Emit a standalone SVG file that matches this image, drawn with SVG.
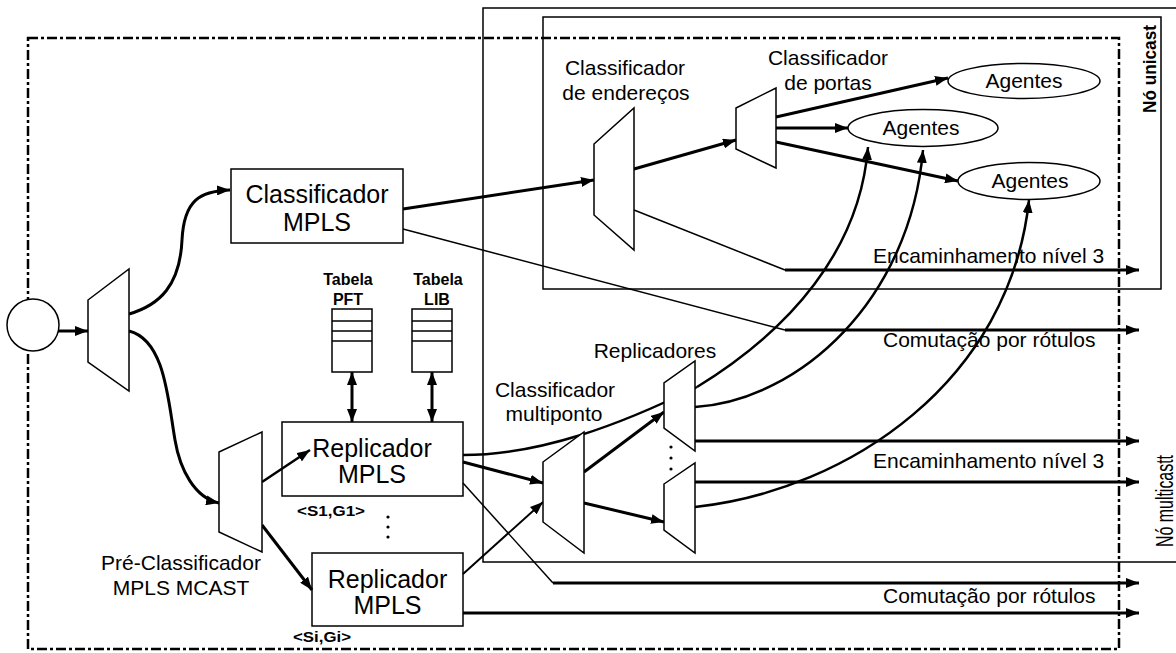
<svg xmlns="http://www.w3.org/2000/svg" width="1176" height="653" viewBox="0 0 1176 653">
<defs>
<marker id="ah" markerUnits="userSpaceOnUse" markerWidth="14" markerHeight="10" refX="13" refY="5" orient="auto-start-reverse"><path d="M0,0 L13,5 L0,10 z" fill="#000"/></marker>
</defs>
<style>
text{font-family:"Liberation Sans",Arial,sans-serif;fill:#000}
.lbl{font-size:21px}
.big{font-size:25px;text-anchor:middle}
.mid{text-anchor:middle}
.tb{font-size:16px;font-weight:bold;text-anchor:middle}
.sm{font-size:15px;font-weight:bold}
.shape{fill:#fff;stroke:#000;stroke-width:1.5}
.box{fill:none;stroke:#000;stroke-width:1.5}
.frame{fill:none;stroke:#000;stroke-width:1.5}
.dd{fill:none;stroke:#000;stroke-width:2.5;stroke-dasharray:10 3 3 3}
.c{fill:none;stroke:#000}
.t3{stroke-width:3}
.t25{stroke-width:2.5}
.t2{stroke-width:2}
.t15{stroke-width:1.5}
.ar{marker-end:url(#ah)}
.dbl{marker-start:url(#ah);marker-end:url(#ah)}
</style>
<g id="frames">
<rect class="frame" x="483" y="8" width="720" height="554"/>
<rect class="frame" x="543" y="17" width="618" height="272"/>
<rect class="dd" x="28" y="38" width="1091" height="611"/>
<text transform="translate(1156,69) rotate(-90)" style="font-size:18px;font-weight:bold;text-anchor:middle" textLength="88" lengthAdjust="spacingAndGlyphs">Nó unicast</text>
<text transform="translate(1173,501) rotate(-90)" style="font-size:23px;text-anchor:middle" textLength="92" lengthAdjust="spacingAndGlyphs">Nó multicastt</text>
</g>
<g id="connectors">
<path class="c t3 ar" d="M58,331 L88,331"/>
<path class="c t3 ar" d="M129,314 C160,305 180,285 182,240 C184,200 200,191 230,190"/>
<path class="c t3 ar" d="M129,331 C165,340 168,400 175,440 C180,470 195,498 219,503"/>
<path class="c t3 ar" d="M403,209 L594,180"/>
<path class="c t15" d="M403,229 L785,330"/>
<path class="c t3 ar" d="M785,330 L1139,330"/>
<path class="c t3 ar" d="M634,169 L736,140"/>
<path class="c t15" d="M634,210 L785,270"/>
<path class="c t3 ar" d="M785,270 L1139,270"/>
<path class="c t3 ar" d="M776,117 L948,78"/>
<path class="c t3 ar" d="M776,128 L848,128"/>
<path class="c t3 ar" d="M776,142 L958,181"/>
<path class="c t25 ar" d="M262,482 L310,450"/>
<path class="c t3 ar" d="M262,525 L312,590"/>
<path class="c t3 dbl" d="M352,372 L352,422"/>
<path class="c t3 dbl" d="M432,372 L432,422"/>
<path class="c t3 ar" d="M463,462 L543,483"/>
<path class="c t2 ar" d="M463,574 L543,502"/>
<path class="c t25" d="M463,455 C540,455 620,425 697,387"/>
<path class="c t25 ar" d="M697,387 C790,330 860,250 868,147"/>
<path class="c t3 ar" d="M584,472 L664,412"/>
<path class="c t3 ar" d="M584,503 L664,522"/>
<path class="c t25 ar" d="M695,407 C800,400 910,300 923,150"/>
<path class="c t25 ar" d="M695,507 C850,490 1010,380 1029,200"/>
<path class="c t3 ar" d="M695,441 L1139,441"/>
<path class="c t3 ar" d="M695,482 L1139,482"/>
<path class="c t15" d="M463,483 L553,583"/>
<path class="c t3 ar" d="M553,583 L1139,583"/>
<path class="c t3 ar" d="M463,613 L1139,613"/>
</g>
<g id="source"><circle class="shape" cx="33" cy="325" r="26"/></g>
<g id="classifier-in"><polygon class="shape" points="88,300 129,269 129,391 88,362"/></g>
<g id="classificador-mpls">
<rect class="shape" x="231" y="169" width="172" height="74"/>
<text class="big" x="317" y="203">Classificador</text>
<text class="big" x="317" y="231">MPLS</text>
</g>
<g id="tabela-pft">
<text class="tb" x="348" y="285">Tabela</text>
<text class="tb" x="348" y="305">PFT</text>
<rect class="shape" x="332" y="309" width="40" height="63"/>
<path class="c t15" d="M332,321 H372 M332,331 H372 M332,341 H372"/>
</g>
<g id="tabela-lib">
<text class="tb" x="438" y="285">Tabela</text>
<text class="tb" x="437" y="305">LIB</text>
<rect class="shape" x="412" y="309" width="40" height="63"/>
<path class="c t15" d="M412,321 H452 M412,331 H452 M412,341 H452"/>
</g>
<g id="pre-classificador">
<polygon class="shape" points="219,452 262,432 262,552 219,532"/>
<text class="lbl mid" x="181" y="570">Pré-Classificador</text>
<text class="lbl mid" x="181" y="595">MPLS MCAST</text>
</g>
<g id="replicador-1">
<rect class="box" x="282" y="422" width="181" height="74"/>
<text class="big" x="372" y="457">Replicador</text>
<text class="big" x="372" y="483">MPLS</text>
<text class="sm" x="297" y="516" textLength="68" lengthAdjust="spacingAndGlyphs">&lt;S1,G1&gt;</text>
<circle cx="388" cy="517" r="1.6"/><circle cx="388" cy="527" r="1.6"/><circle cx="388" cy="537" r="1.6"/>
</g>
<g id="replicador-i">
<rect class="box" x="312" y="553" width="151" height="73"/>
<text class="big" x="387.5" y="588">Replicador</text>
<text class="big" x="387.5" y="614">MPLS</text>
<text class="sm" x="293" y="642" textLength="58" lengthAdjust="spacingAndGlyphs">&lt;Si,Gi&gt;</text>
</g>
<g id="classificador-enderecos">
<polygon class="shape" points="594,144 634,108 634,250 594,215"/>
<text class="lbl mid" x="625" y="75">Classificador</text>
<text class="lbl mid" x="626" y="100">de endereços</text>
</g>
<g id="classificador-portas">
<polygon class="shape" points="736,108 776,88 776,168 736,149"/>
<text class="lbl mid" x="828" y="65">Classificador</text>
<text class="lbl mid" x="828" y="90">de portas</text>
</g>
<g id="agentes-1"><ellipse class="shape" cx="1024" cy="81" rx="76" ry="17.5"/><text class="lbl mid" x="1024" y="88">Agentes</text></g>
<g id="agentes-2"><ellipse class="shape" cx="923" cy="128" rx="75" ry="18.5"/><text class="lbl mid" x="921" y="135">Agentes</text></g>
<g id="agentes-3"><ellipse class="shape" cx="1029" cy="181" rx="71" ry="18.5"/><text class="lbl mid" x="1030" y="188">Agentes</text></g>
<g id="classificador-multiponto">
<polygon class="shape" points="543,462 584,432 584,553 543,522"/>
<text class="lbl mid" x="555" y="397">Classificador</text>
<text class="lbl mid" x="554" y="421">multiponto</text>
</g>
<g id="replicadores">
<text class="lbl mid" x="655" y="358">Replicadores</text>
<polygon class="shape" points="664,405 664,383 695,361 695,451 664,428"/>
<polygon class="shape" points="664,484 695,463 695,553 664,530"/>
<circle cx="671" cy="447" r="1.6"/><circle cx="671" cy="458" r="1.6"/><circle cx="671" cy="469" r="1.6"/>
</g>
<g id="labels">
<text class="lbl" x="873" y="263">Encaminhamento nível 3</text>
<text class="lbl" x="883" y="347">Comutação por rótulos</text>
<text class="lbl" x="873" y="468">Encaminhamento nível 3</text>
<text class="lbl" x="883" y="603">Comutação por rótulos</text>
</g>
</svg>
